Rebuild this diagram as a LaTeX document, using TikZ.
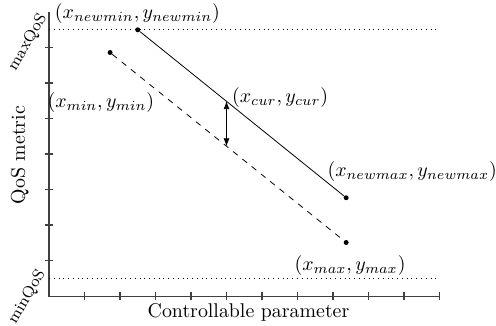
\documentclass[tikz,border=0pt]{standalone}
\usepackage{tikz}
\usetikzlibrary{arrows.meta}

\begin{document}
\begin{tikzpicture}[
    x=0.628cm, y=0.628cm,
    axis/.style={draw=black!75, semithick},
    tickmark/.style={draw=black!75, semithick},
    bound/.style={dotted},
    pt/.style={circle, fill, inner sep=0pt, minimum size=2.5pt},
    lab/.style={inner sep=1pt},
    qos/.style={font=\footnotesize, rotate=60, inner sep=0pt},
    arr/.style={{Latex[length=4pt,width=3pt]}-{Latex[length=4pt,width=3pt]}}
  ]
    \useasboundingbox (-1.38,-0.82) rectangle (12.59,8.34);

    % Axes with ticks
    \coordinate (origin) at (0,0);
    \coordinate (xend)   at (11,0);
    \coordinate (yend)   at (0,8);
    \draw[axis] (xend) -- (origin) -- (yend);
    \foreach \i in {1,...,11} \draw[tickmark] (\i,-0.12) -- (\i,0.12);
    \foreach \j in {1,...,7}  \draw[tickmark] (-0.12,\j) -- (0.12,\j);

    % QoS bounds
    \coordinate (maxL) at (0,7.5);
    \coordinate (maxR) at (11,7.5);
    \coordinate (minL) at (0,0.5);
    \coordinate (minR) at (11,0.5);
    \draw[bound] (maxL) -- (maxR);
    \draw[bound] (minL) -- (minR);

    % Old and new lines
    \node[pt] (newmin) at (2.5,7.5)   {};
    \node[pt] (newmax) at (8.37,2.77) {};
    \node[pt] (oldmin) at (1.72,6.86) {};
    \node[pt] (oldmax) at (8.37,1.51) {};
    \draw (newmin) -- (newmax);
    \draw[dashed] (oldmin) -- (oldmax);

    % Current point shift
    \coordinate (curhi) at (5,5.49);
    \coordinate (curlo) at (5,4.22);
    \draw[arr] (curhi) -- (curlo);

    % Point labels
    \node[lab] (newminlab) at (2.49,7.97) {$(x_{newmin},y_{newmin})$};
    \node[lab] (minlab)    at (1.46,5.44) {$(x_{min},y_{min})$};
    \node[lab] (curlab)    at (6.51,5.60) {$(x_{cur},y_{cur})$};
    \node[lab] (newmaxlab) at (10.23,3.52) {$(x_{newmax},y_{newmax})$};
    \node[lab] (maxlab)    at (8.48,0.87) {$(x_{max},y_{max})$};

    % Axis labels
    \node[rotate=90] (ylab) at (-0.82,3.97) {QoS metric};
    \node (xlab) at (5.62,-0.45) {Controllable parameter};
    \node[qos] (maxqos) at (-0.60,7.15)  {maxQoS};
    \node[qos] (minqos) at (-0.62,-0.02) {minQoS};
  \end{tikzpicture}
\end{document}
